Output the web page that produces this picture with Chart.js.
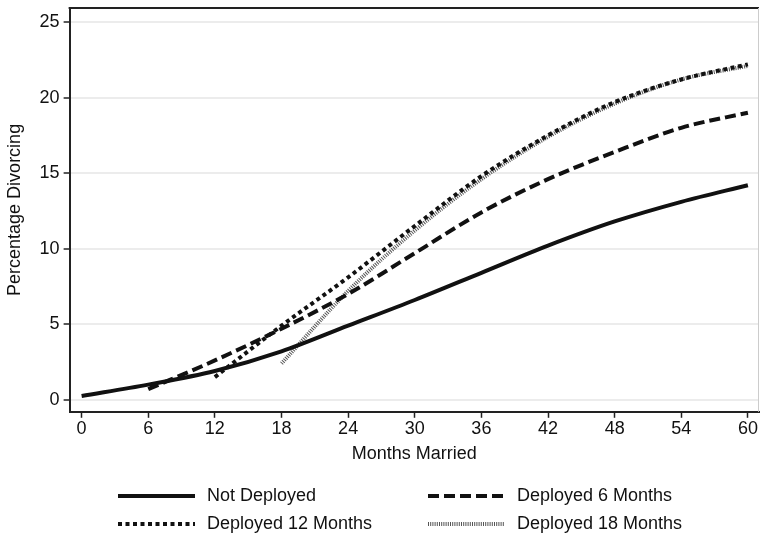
<!DOCTYPE html>
<html>
<head>
<meta charset="utf-8">
<script src="https://cdn.jsdelivr.net/npm/chart.js@4"></script>
<style>
  html, body { margin: 0; padding: 0; background: #fff; }
  #wrap { width: 760px; height: 536px; }
</style>
</head>
<body>
<div id="wrap"><canvas id="chart-1" width="760" height="536"></canvas></div>
<script>
// values
const months = [0, 6, 12, 18, 24, 30, 36, 42, 48, 54, 60];
const notDeployed = [0.25, 1.0, 1.9, 3.2, 4.9, 6.6, 8.4, 10.2, 11.8, 13.1, 14.2];
const deployed6 = [null, 0.7, 2.6, 4.7, 7.0, 9.7, 12.4, 14.6, 16.4, 18.0, 19.0];
const deployed12 = [null, null, 1.5, 4.9, 8.1, 11.5, 14.8, 17.5, 19.7, 21.2, 22.2];
const deployed18 = [null, null, null, 2.4, 7.2, 11.2, 14.6, 17.4, 19.6, 21.2, 22.1];
const xTicks = [0, 6, 12, 18, 24, 30, 36, 42, 48, 54, 60];
const yTicks = [0, 5, 10, 15, 20, 25];

const font = 'Liberation Sans, Arial, Helvetica, sans-serif';

function points(values) {
    return months.map((m, i) => ({ x: m, y: values[i] })).filter(p => p.y !== null);
}

// cadre : trait du haut foncé, bord droit gris
const framePlugin = {
    id: 'frame',
    afterDraw(chart) {
        const { ctx, chartArea: a } = chart;
        ctx.save();
        ctx.strokeStyle = '#222';
        ctx.lineWidth = 2;
        ctx.beginPath();
        ctx.moveTo(a.left - 1, a.top);
        ctx.lineTo(a.right, a.top);
        ctx.stroke();
        ctx.strokeStyle = '#ccc';
        ctx.lineWidth = 1;
        ctx.beginPath();
        ctx.moveTo(a.right - 0.5, a.top);
        ctx.lineTo(a.right - 0.5, a.bottom);
        ctx.stroke();
        ctx.restore();
    }
};

// légende sur deux colonnes
const legendPlugin = {
    id: 'twoColLegend',
    afterDraw(chart) {
        const ctx = chart.ctx;
        const cols = [118, 428];
        const rows = [496, 524];
        ctx.save();
        chart.data.datasets.forEach((ds, i) => {
            const x = cols[i % 2];
            const y = rows[Math.floor(i / 2)];
            ctx.strokeStyle = ds.borderColor;
            ctx.lineWidth = ds.borderWidth;
            ctx.setLineDash(ds.borderDash || []);
            ctx.beginPath();
            ctx.moveTo(x, y);
            ctx.lineTo(x + 77, y);
            ctx.stroke();
            ctx.setLineDash([]);
            ctx.fillStyle = '#111';
            ctx.font = '18px ' + font;
            ctx.textBaseline = 'middle';
            ctx.fillText(ds.label, x + 89, y);
        });
        ctx.restore();
    }
};

const ctx1 = document.getElementById('chart-1').getContext('2d');

const myChart1 = new Chart(ctx1, {
    type: 'line',
    data: {
        datasets: [{
            label: 'Not Deployed',
            data: points(notDeployed),
            borderColor: '#111',
            borderWidth: 4,
            borderDash: []
        }, {
            label: 'Deployed 6 Months',
            data: points(deployed6),
            borderColor: '#111',
            borderWidth: 4,
            borderDash: [11, 5]
        }, {
            label: 'Deployed 12 Months',
            data: points(deployed12),
            borderColor: '#111',
            borderWidth: 4,
            borderDash: [4, 3.5]
        }, {
            label: 'Deployed 18 Months',
            data: points(deployed18),
            borderColor: '#555',
            borderWidth: 4,
            borderDash: [1, 1.2]
        }]
    },
    options: {
        responsive: false,
        animation: false,
        layout: { padding: { left: 4, right: 1, top: 8, bottom: 71 } },
        elements: {
            point: { radius: 0 },
            line: { tension: 0.4, cubicInterpolationMode: 'monotone', fill: false }
        },
        plugins: {
            legend: { display: false },
            tooltip: { enabled: false }
        },
        scales: {
            x: {
                type: 'linear',
                min: -1.08,
                max: 61,
                afterBuildTicks: axis => { axis.ticks = xTicks.map(v => ({ value: v })); },
                ticks: { color: '#111', font: { family: font, size: 18 }, padding: 0, maxRotation: 0 },
                grid: { drawOnChartArea: false, drawTicks: true, tickLength: 6, tickColor: '#222', tickWidth: 1.5 },
                border: { color: '#222', width: 2 },
                title: { display: true, text: 'Months Married', color: '#111', font: { family: font, size: 18 }, padding: { top: 4, bottom: 0 } }
            },
            y: {
                min: -0.8,
                max: 25.93,
                afterBuildTicks: axis => { axis.ticks = yTicks.map(v => ({ value: v })); },
                ticks: { color: '#111', font: { family: font, size: 18, lineHeight: 0.3 }, padding: 4 },
                grid: { color: '#ececec', lineWidth: 2, drawTicks: true, tickLength: 6, tickColor: '#222', tickWidth: 1.5 },
                border: { color: '#222', width: 2 },
                title: { display: true, text: 'Percentage Divorcing', color: '#111', font: { family: font, size: 18 }, padding: { top: 0, bottom: 10 } }
            }
        }
    },
    plugins: [framePlugin, legendPlugin]
});
</script>
</body>
</html>
